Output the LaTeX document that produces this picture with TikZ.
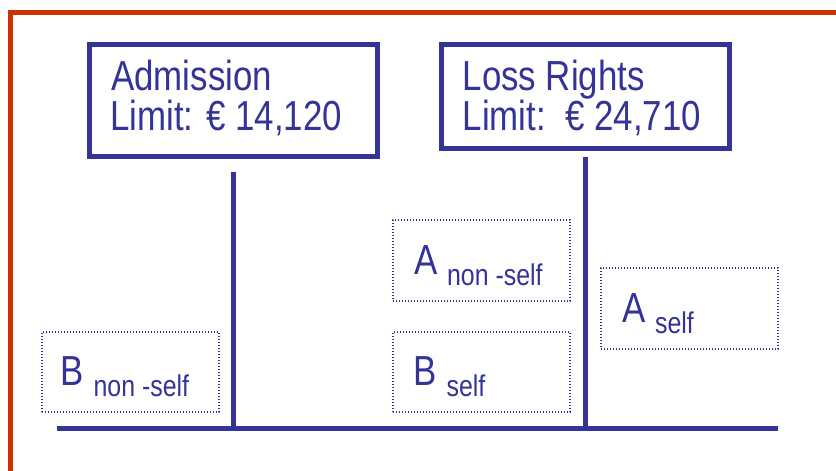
\documentclass[tikz,border=0pt]{standalone}
\usepackage{fontspec}
\setmainfont[FakeStretch=0.83]{Liberation Sans}
\definecolor{dblue}{RGB}{51,51,153}
\definecolor{frameclr}{RGB}{204,51,0}
\newcommand\mysubtext[1]{\raisebox{-11pt}{\fontsize{30}{30}\selectfont #1}}
\begin{document}
\begin{tikzpicture}[x=1pt,y=-1pt,
  bigbox/.style={draw=dblue, line width=5pt, rectangle, inner sep=0pt, outer sep=0pt, anchor=north west, minimum width=288pt},
  dbox/.style={draw=dblue, line width=1.1pt, dash pattern=on 1.1pt off 1.9pt, rectangle, inner sep=0pt, outer sep=0pt, anchor=north west, minimum width=177pt, minimum height=80pt},
  txt/.style={text=dblue, inner sep=0pt, anchor=base west, font=\fontsize{42}{42}\selectfont},
  conn/.style={draw=dblue, line width=5pt}]
\useasboundingbox (0,0) rectangle (836,471);
\fill[white] (0,0) rectangle (836,471);
\draw[frameclr, line width=5pt] (10,471) -- (10,12.5) -- (836,12.5);
% top boxes
\node[bigbox, minimum height=112pt] (adm) at (89.5,44.5) {};
\node[bigbox, minimum height=104pt] (loss) at (441.5,44.5) {};
\node[txt] (admA) at (111,90) {Admission};
\node[txt] (admB) at (110,130) {Limit: € 14,120};
\node[txt] (lossA) at (462.5,90) {Loss Rights};
\node[txt] (lossB) at (462.5,130) {Limit:\ \ € 24,710};
% dotted boxes
\node[dbox] (bns) at (42,332) {};
\node[dbox, minimum height=81pt] (ans) at (393,220) {};
\node[dbox] (bs) at (393,332) {};
\node[dbox, minimum height=81pt] (as) at (601,268) {};
\node[txt] (bnst) at (60.5,385) {B \mysubtext{non -self}};
\node[txt] (anst) at (414,274) {A \mysubtext{non -self}};
\node[txt] (bst) at (413.5,385) {B \mysubtext{self}};
\node[txt] (ast) at (622,322) {A \mysubtext{self}};
% connectors
\coordinate (hlL) at (57,428);
\coordinate (hlR) at (778,428);
\draw[conn] (hlL) -- (hlR);
\draw[conn] ([yshift=-15.5pt]adm.south) -- (adm.south |- hlL);
\draw[conn] ([yshift=-8.5pt]loss.south) -- (loss.south |- hlL);
\end{tikzpicture}
\end{document}
